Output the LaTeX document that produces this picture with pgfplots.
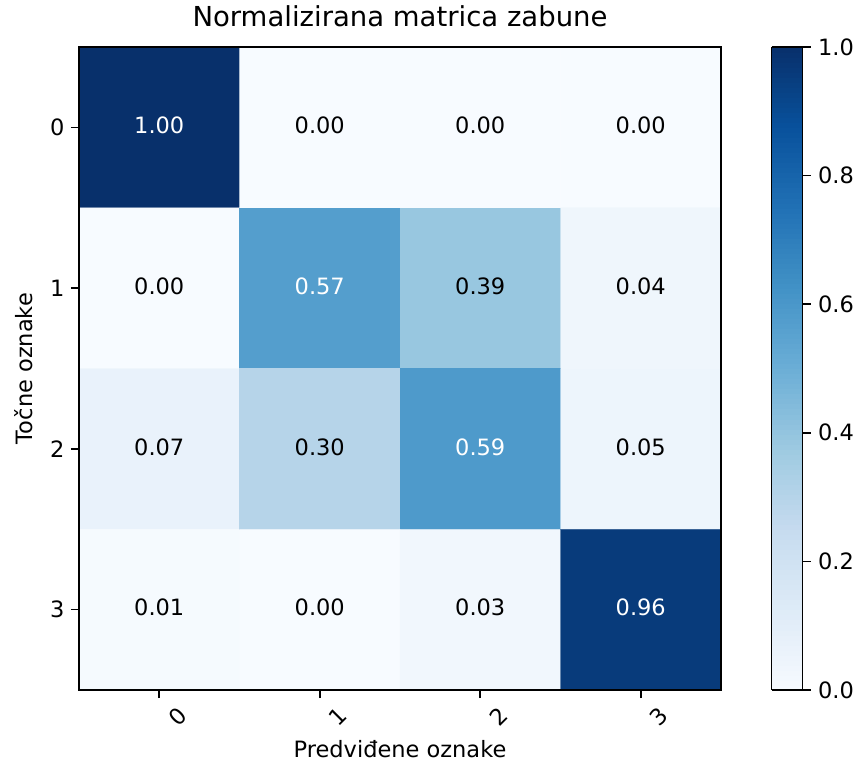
\documentclass[border=0pt]{standalone}
\usepackage{pgfplots}
\pgfplotsset{compat=1.18}
\usepackage{fontspec}
\setmainfont{DejaVu Sans}
\newcommand{\tfont}{\fontsize{22.5}{27}\selectfont}
\newcommand{\titlefont}{\fontsize{27.5}{32}\selectfont}
\pgfplotstableread{
x y v
0 0 1.00
1 0 0.00
2 0 0.00
3 0 0.00
0 1 0.00
1 1 0.57
2 1 0.39
3 1 0.04
0 2 0.07
1 2 0.30
2 2 0.59
3 2 0.05
0 3 0.01
1 3 0.00
2 3 0.03
3 3 0.96
}\cmdata
\pgfplotstableread{
x y t
1 0 0.00
2 0 0.00
3 0 0.00
0 1 0.00
2 1 0.39
3 1 0.04
0 2 0.07
1 2 0.30
3 2 0.05
0 3 0.01
1 3 0.00
2 3 0.03
}\darktext
\pgfplotstableread{
x y t
0 0 1.00
1 1 0.57
2 2 0.59
3 3 0.96
}\lighttext
\begin{document}
\begin{tikzpicture}
\path[use as bounding box] (0,0) rectangle (857pt,765pt);
\begin{axis}[
  at={(79pt,75pt)}, anchor=south west,
  scale only axis, width=642pt, height=643pt,
  xmin=-0.5, xmax=3.5, ymin=-0.5, ymax=3.5,
  y dir=reverse,
  enlargelimits=false,
  axis on top,
  xtick={0,1,2,3}, ytick={0,1,2,3},
  xtick pos=bottom, ytick pos=left,
  tick align=outside,
  major tick length=8pt,
  axis line style={line width=1.6pt},
  every tick/.style={black, line width=1.6pt},
  /pgf/number format/assume math mode=true,
  tick label style={font=\tfont},
  xticklabel style={rotate=45, anchor=center, yshift=-26pt},
  yticklabel style={xshift=-3pt},
  title={Normalizirana matrica zabune},
  title style={font=\titlefont, at={(axis description cs:0.5,1)}, anchor=base, yshift=14pt},
  xlabel={Predviđene oznake},
  xlabel style={font=\tfont, at={(axis description cs:0.5,0)}, anchor=base, yshift=-67pt},
  ylabel={Točne oznake},
  ylabel style={font=\tfont, at={(axis description cs:0,0.5)}, anchor=center, yshift=55pt},
  colormap={blues}{rgb255(0)=(247,251,255) rgb255(1)=(222,235,247) rgb255(2)=(198,219,239) rgb255(3)=(158,202,225) rgb255(4)=(107,174,214) rgb255(5)=(66,146,198) rgb255(6)=(33,113,181) rgb255(7)=(8,81,156) rgb255(8)=(8,48,107)},
  point meta min=0, point meta max=1,
  colorbar sampled,
  colorbar style={
    at={(parent axis.north east)}, anchor=north west, xshift=42pt,
    scale only axis,
    width=31pt,
    samples=129,
    y dir=normal,
    ytick={0,0.2,0.4,0.6,0.8,1.0},
    yticklabel style={font=\tfont, /pgf/number format/fixed, /pgf/number format/precision=1, /pgf/number format/fixed zerofill, xshift=4pt},
    /pgf/number format/assume math mode=true,
    tick align=outside,
    ytick pos=right,
    major tick length=8pt,
    axis line style={line width=1.6pt},
    every tick/.style={black, line width=1.6pt},
  },
]
\addplot[matrix plot*, mesh/cols=4, point meta=explicit] table[x=x, y=y, meta=v] {\cmdata};
\addplot[only marks, mark=none, nodes near coords, point meta=explicit symbolic,
  nodes near coords align=center,
  every node near coord/.append style={font=\tfont, text=black, yshift=2pt}]
  table[x=x, y=y, meta=t] {\darktext};
\addplot[only marks, mark=none, nodes near coords, point meta=explicit symbolic,
  nodes near coords align=center,
  every node near coord/.append style={font=\tfont, text=white, yshift=2pt}]
  table[x=x, y=y, meta=t] {\lighttext};
\end{axis}
\end{tikzpicture}
\end{document}
